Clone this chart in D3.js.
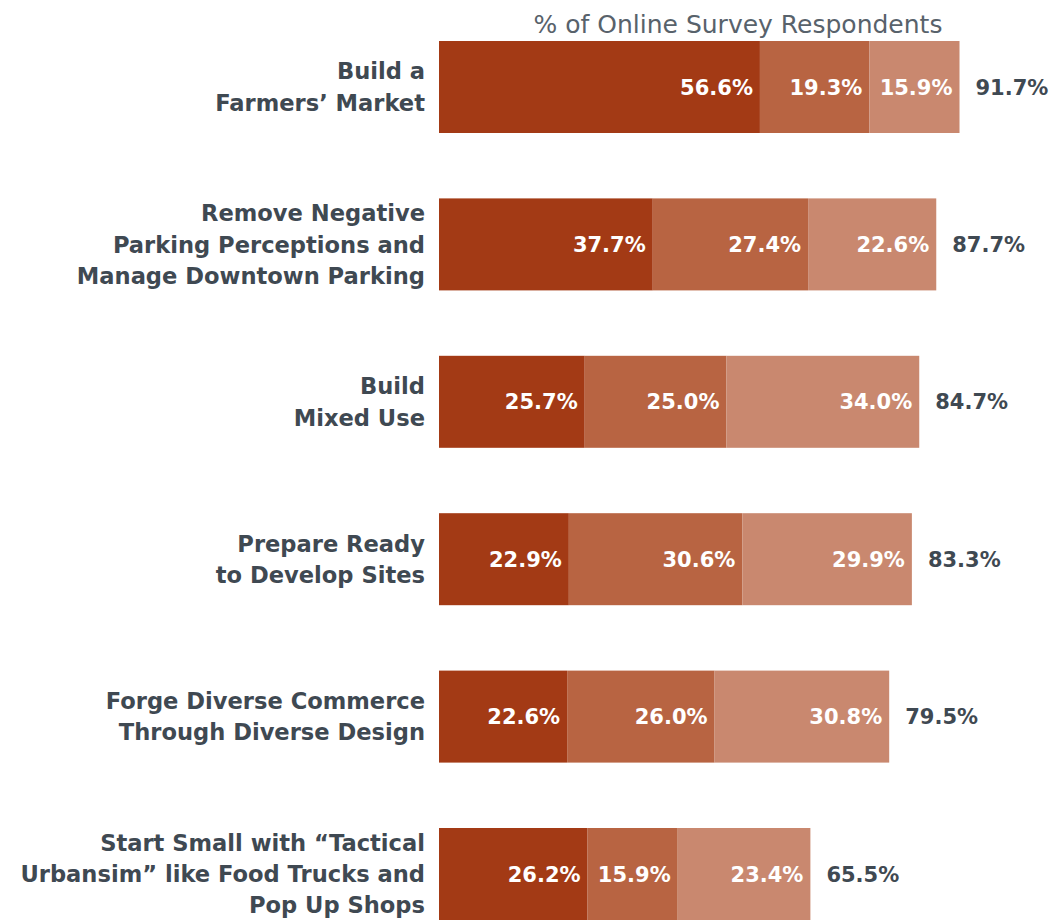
<!DOCTYPE html>
<html>
<head>
<meta charset="utf-8">
<script src="https://cdn.jsdelivr.net/npm/d3@7"></script>
<style>
  html, body { margin: 0; padding: 0; background: #ffffff; }
  svg { display: block; }
</style>
</head>
<body>
<svg id="chart" width="1055" height="920"></svg>
<script>
// Survey priorities: share of respondents per response level, stacked
const categories = [
  ["Build a", "Farmers\u2019 Market"],
  ["Remove Negative", "Parking Perceptions and", "Manage Downtown Parking"],
  ["Build", "Mixed Use"],
  ["Prepare Ready", "to Develop Sites"],
  ["Forge Diverse Commerce", "Through Diverse Design"],
  ["Start Small with \u201cTactical", "Urbansim\u201d like Food Trucks and", "Pop Up Shops"]
];
const seriesA = [56.6, 37.7, 25.7, 22.9, 22.6, 26.2];
const seriesB = [19.3, 27.4, 25.0, 30.6, 26.0, 15.9];
const seriesC = [15.9, 22.6, 34.0, 29.9, 30.8, 23.4];
const totals  = [91.7, 87.7, 84.7, 83.3, 79.5, 65.5];
const axisTitle = "% of Online Survey Respondents";

const colors = ["#a33a15", "#b86442", "#c9886f"];
const textDark = "#3f4952";
const font = "'DejaVu Sans', sans-serif";

const svg = d3.select("#chart");

const x = d3.scaleLinear().domain([0, 100]).range([439, 439 + 567]);
const y = d3.scaleBand()
  .domain(d3.range(categories.length))
  .range([41, 920])
  .paddingInner(0.4155)
  .paddingOuter(0);
const barH = y.bandwidth();

const rows = categories.map((c, i) => {
  const vals = [seriesA[i], seriesB[i], seriesC[i]];
  let acc = 0;
  const segs = vals.map((v, k) => {
    const s = { x0: acc, x1: acc + v, v, k, i };
    acc += v;
    return s;
  });
  return { i, label: c, segs, total: totals[i] };
});

// axis title
svg.append("text")
  .attr("x", 738)
  .attr("y", 33)
  .attr("text-anchor", "middle")
  .attr("font-family", font)
  .attr("font-size", 25)
  .attr("fill", "#58626b")
  .text(axisTitle);

const g = svg.selectAll("g.row").data(rows).join("g").attr("class", "row");

g.selectAll("rect")
  .data(d => d.segs)
  .join("rect")
  .attr("x", s => x(s.x0))
  .attr("width", s => x(s.x1) - x(s.x0))
  .attr("y", s => y(s.i))
  .attr("height", barH)
  .attr("fill", s => colors[s.k]);

g.selectAll("text.val")
  .data(d => d.segs)
  .join("text")
  .attr("class", "val")
  .attr("x", s => x(s.x1) - 7)
  .attr("y", s => y(s.i) + barH / 2)
  .attr("dy", "0.36em")
  .attr("text-anchor", "end")
  .attr("font-family", font)
  .attr("font-weight", "bold")
  .attr("font-size", 21)
  .attr("fill", "#ffffff")
  .text(s => s.v.toFixed(1) + "%");

g.append("text")
  .attr("class", "total")
  .attr("x", d => x(d3.sum(d.segs, s => s.v)) + 16)
  .attr("y", d => y(d.i) + barH / 2)
  .attr("dy", "0.36em")
  .attr("font-family", font)
  .attr("font-weight", "bold")
  .attr("font-size", 21)
  .attr("fill", textDark)
  .text(d => d.total.toFixed(1) + "%");

const lineH = 31.3;
g.append("text")
  .attr("class", "cat")
  .attr("font-family", font)
  .attr("font-weight", "bold")
  .attr("font-size", 22.6)
  .attr("fill", textDark)
  .attr("text-anchor", "end")
  .each(function(d) {
    const t = d3.select(this);
    const n = d.label.length;
    const cy = y(d.i) + barH / 2;
    d.label.forEach((line, j) => {
      t.append("tspan")
        .attr("x", 425)
        .attr("y", cy + (j - (n - 1) / 2) * lineH)
        .attr("dy", "0.36em")
        .text(line);
    });
  });
</script>
</body>
</html>
